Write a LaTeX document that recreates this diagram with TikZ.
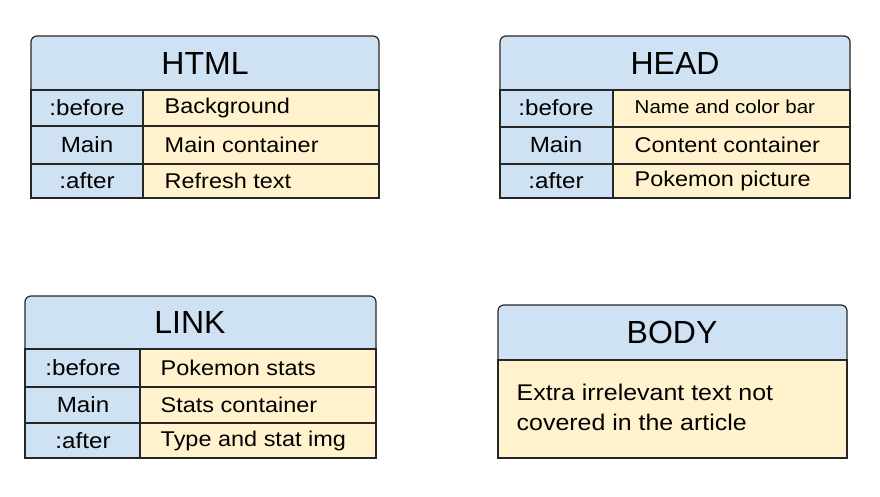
\documentclass[tikz,border=0pt]{standalone}
\usepackage{fontspec}
\setmainfont{Liberation Sans}
\newfontfamily\cellfont{Liberation Sans}[FakeStretch=1.1]
\definecolor{hblue}{HTML}{CFE2F3}
\definecolor{cyellow}{HTML}{FFF2CC}
\definecolor{edge}{HTML}{262626}
\tikzset{
    titlebox/.style={fill=hblue, draw=edge, line width=0.9pt},
    keycell/.style={fill=hblue, draw=edge, line width=0.9pt},
    valcell/.style={fill=cyellow, draw=edge, line width=0.9pt},
    sepline/.style={draw=edge, line width=2pt},
    titletext/.style={font=\fontsize{24}{28}\selectfont},
    keytext/.style={font=\cellfont\fontsize{16.5}{19}\selectfont},
    valtext/.style={font=\cellfont\fontsize{16}{19}\selectfont, anchor=west},
}
\begin{document}
\begin{tikzpicture}[x=0.75pt, y=-0.75pt]
    \useasboundingbox[fill=white] (0,0) rectangle (880,496);

    %HTML Table
    \draw[titlebox] (31,90) [rounded corners=4.5pt] |- (379,36) [sharp corners] -- (379,90) -- cycle;
    \draw[keycell] (31,90) rectangle (143,198);
    \draw[valcell] (143,90) rectangle (379,198);
    \draw[sepline] (31,126) -- (379,126);
    \draw[sepline] (31,164) -- (379,164);
    \node[titletext] (htmltitle) at (205,63) {HTML};
    \node[keytext] (htmlbefore) at (87,108) {:before};
    \node[keytext] (htmlmain) at (87,145) {Main};
    \node[keytext] (htmlafter) at (87,181) {:after};
    \node[valtext] (htmlbg) at (160,108) {Background};
    \node[valtext] (htmlcont) at (160,145) {Main container};
    \node[valtext] (htmlrefresh) at (160,181) {Refresh text};

    %HEAD Table
    \draw[titlebox] (850,90) [rounded corners=4.5pt] |- (500,36) [sharp corners] -- (500,90) -- cycle;
    \draw[keycell] (500,90) rectangle (613,198);
    \draw[valcell] (613,90) rectangle (850,198);
    \draw[sepline] (500,127) -- (850,127);
    \draw[sepline] (500,164) -- (850,164);
    \node[titletext] (headtitle) at (675,63) {HEAD};
    \node[keytext] (headbefore) at (556,108) {:before};
    \node[keytext] (headmain) at (556,145) {Main};
    \node[keytext] (headafter) at (556,181) {:after};
    \node[valtext, font=\cellfont\fontsize{14}{17}\selectfont] (headbar) at (630,107) {Name and color bar};
    \node[valtext] (headcont) at (630,145) {Content container};
    \node[valtext] (headpic) at (630,181) {Pokemon picture};

    %LINK Table
    \draw[titlebox] (25,349) [rounded corners=4.5pt] |- (376,296) [sharp corners] -- (376,349) -- cycle;
    \draw[keycell] (25,349) rectangle (140,458);
    \draw[valcell] (140,349) rectangle (376,458);
    \draw[sepline] (25,387) -- (376,387);
    \draw[sepline] (25,423) -- (376,423);
    \node[titletext] (linktitle) at (190,322) {LINK};
    \node[keytext] (linkbefore) at (83,368) {:before};
    \node[keytext] (linkmain) at (83,405) {Main};
    \node[keytext] (linkafter) at (83,441) {:after};
    \node[valtext] (linkstats) at (156,368) {Pokemon stats};
    \node[valtext] (linkcont) at (156,405) {Stats container};
    \node[valtext] (linkimg) at (156,441) {Type and stat img};

    %BODY Table
    \draw[titlebox] (847,360) [rounded corners=4.5pt] |- (498,305) [sharp corners] -- (498,360) -- cycle;
    \draw[valcell] (498,360) rectangle (847,458);
    \node[titletext] (bodytitle) at (672,332) {BODY};
    \node[valtext, align=left, font=\cellfont\fontsize{17}{22.5}\selectfont] (bodytext) at (512,407) {Extra irrelevant text not\\covered in the article};
\end{tikzpicture}
\end{document}
